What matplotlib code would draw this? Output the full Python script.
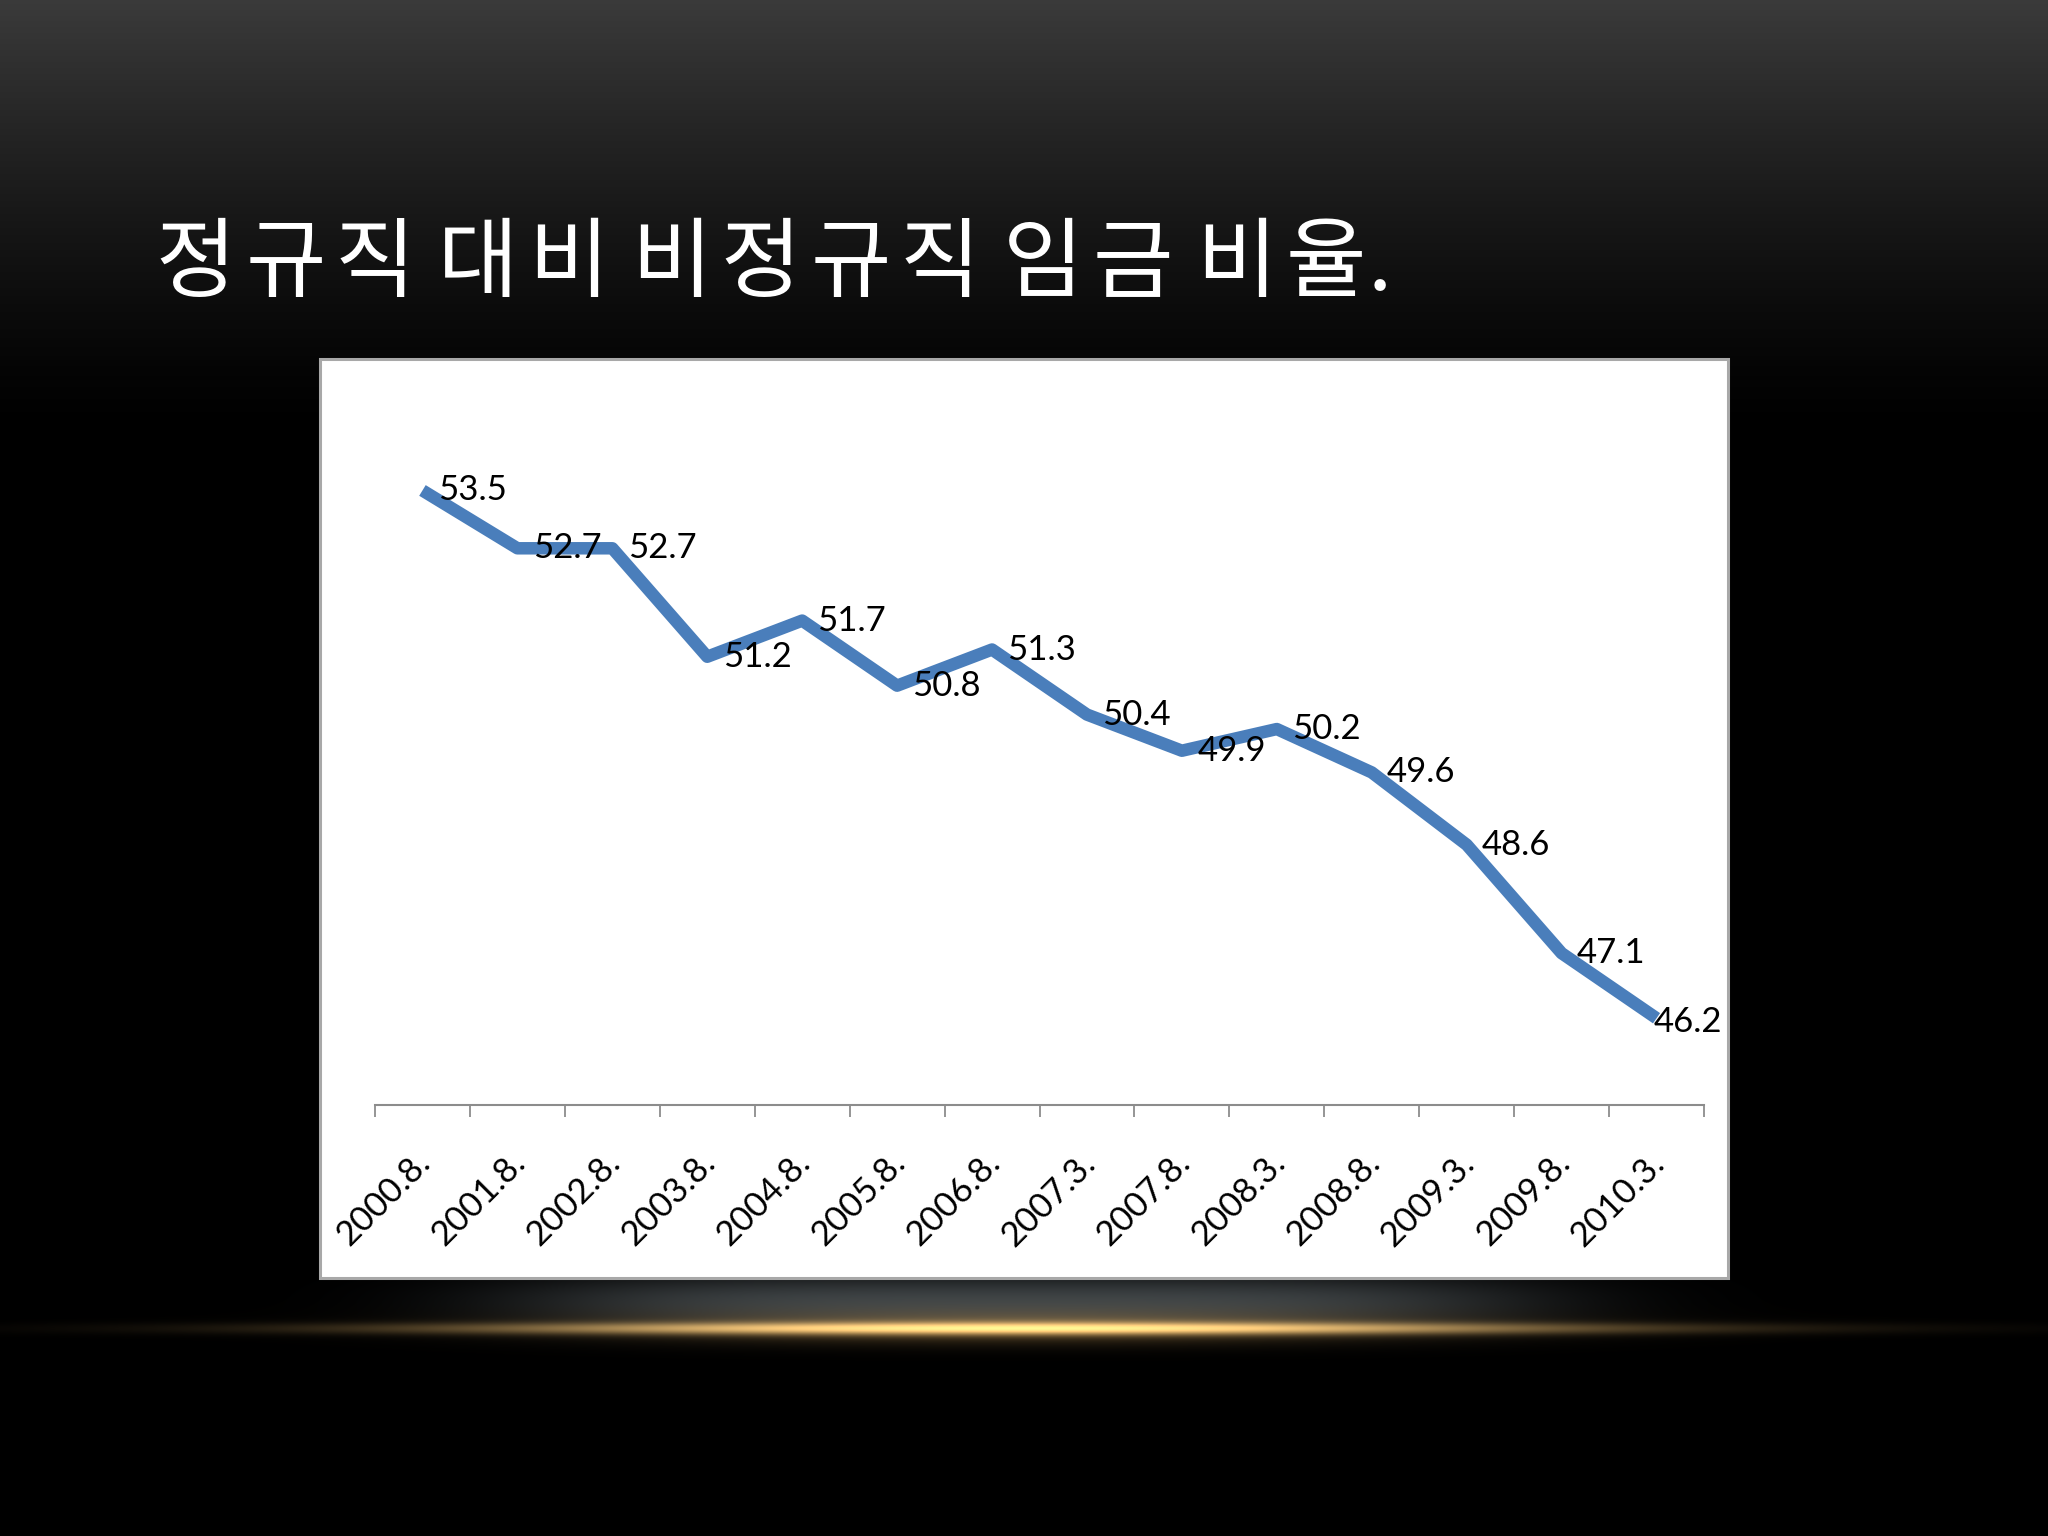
import numpy as np
import matplotlib
matplotlib.use('Agg')
import matplotlib.pyplot as plt
from matplotlib.patches import Rectangle

# 데이터
periods = ['2000.8.', '2001.8.', '2002.8.', '2003.8.', '2004.8.', '2005.8.', '2006.8.',
           '2007.3.', '2007.8.', '2008.3.', '2008.8.', '2009.3.', '2009.8.', '2010.3.']
ratio = [53.5, 52.7, 52.7, 51.2, 51.7, 50.8, 51.3, 50.4, 49.9, 50.2, 49.6, 48.6, 47.1, 46.2]
title = '정규직 대비 비정규직 임금 비율.'

W, H = 2048, 1536
fig = plt.figure(figsize=(W / 100, H / 100), dpi=100)

# 배경 (그라데이션 + 아래쪽 금색 빛)
bg = fig.add_axes([0, 0, 1, 1])
bg.axis('off')
yy = np.arange(H)[:, None].astype(float)
xx = np.linspace(0, 1, W)[None, :]
grey = 0.23 * np.clip(1 - yy / 430, 0, 1) ** 1.3
img = np.repeat(grey[:, :, None], 3, axis=2) * np.ones((1, W, 1))
# 상자 아래 회색 안개
haze = np.exp(-((xx - 0.5) / 0.25) ** 4) * np.exp(-((yy - 1300) / 26) ** 2)
img += haze[:, :, None] * np.array([0.24, 0.26, 0.27])
# 금색 선
gold = np.exp(-((yy - 1328) / 6) ** 2) * np.exp(-((xx - 0.5) / 0.27) ** 2)
glow = np.exp(-((yy - 1326) / 16) ** 2) * np.exp(-((xx - 0.5) / 0.2) ** 2)
img += gold[:, :, None] * np.array([0.85, 0.68, 0.40])
img += glow[:, :, None] * np.array([0.30, 0.22, 0.10])
img = np.clip(img, 0, 1)
bg.imshow(img, extent=[0, 1, 0, 1], aspect='auto', interpolation='bilinear')
bg.set_xlim(0, 1)
bg.set_ylim(0, 1)

# 흰색 차트 상자
bg.add_patch(Rectangle((320 / W, 1 - 1278 / H), (1728 - 320) / W, (1278 - 359) / H,
                       facecolor='white', edgecolor='#a8a8a8', lw=2.2))

# 제목 (글자 간격을 넓혀서 한 글자씩 배치)
kr = ['Noto Sans CJK KR', 'DejaVu Sans']
pitch, space = 89.5, 14
k, nsp = 0, 0
for ch in title:
    if ch == ' ':
        nsp += 1
        continue
    if ch == '.':
        x0 = 196 + pitch * (k - 1) + space * nsp + 42
        fig.text(x0 / W, 1 - 290 / H, ch, color='white', fontsize=63, family=kr,
                 ha='left', va='baseline')
        continue
    x0 = 196 + pitch * k + space * nsp
    fig.text(x0 / W, 1 - 290 / H, ch, color='white', fontsize=63, family=kr,
             ha='center', va='baseline')
    k += 1

# 선 그래프
ax = fig.add_axes([375 / W, 1 - 1105 / H, (1704 - 375) / W, (1105 - 382) / H])
ax.patch.set_alpha(0)
x = np.arange(len(periods))
ax.plot(x, ratio, color='#4a7ebb', lw=9, solid_joinstyle='round', solid_capstyle='butt')
ax.set_xlim(-0.5, len(periods) - 0.5)
ax.set_ylim(45, 55)

for s in ['left', 'right', 'top']:
    ax.spines[s].set_visible(False)
ax.spines['bottom'].set_color('#8c8c8c')
ax.spines['bottom'].set_linewidth(1.5)
ax.set_yticks([])
ax.set_xticks(np.arange(-0.5, len(periods)))
ax.set_xticklabels([])
ax.tick_params(axis='x', direction='out', length=8.5, width=1.3, color='#8c8c8c')

# 값 라벨
for i, v in enumerate(ratio):
    dx, dy = (11, 0) if i < len(ratio) - 1 else (-2, -3)
    ax.annotate(f'{v:.1f}', xy=(i, v), xytext=(dx, dy), textcoords='offset points',
                ha='left', va='center', fontsize=25, family='Lato', color='black')

# x축 라벨 (45도 회전)
for i, p in enumerate(periods):
    ax.annotate(p, xy=(i, 0), xycoords=ax.get_xaxis_transform(), xytext=(2, -38),
                textcoords='offset points', rotation=45, rotation_mode='anchor',
                ha='right', va='center', fontsize=25, family='Lato', color='black',
                annotation_clip=False)

fig.savefig('out.png', dpi=100)
